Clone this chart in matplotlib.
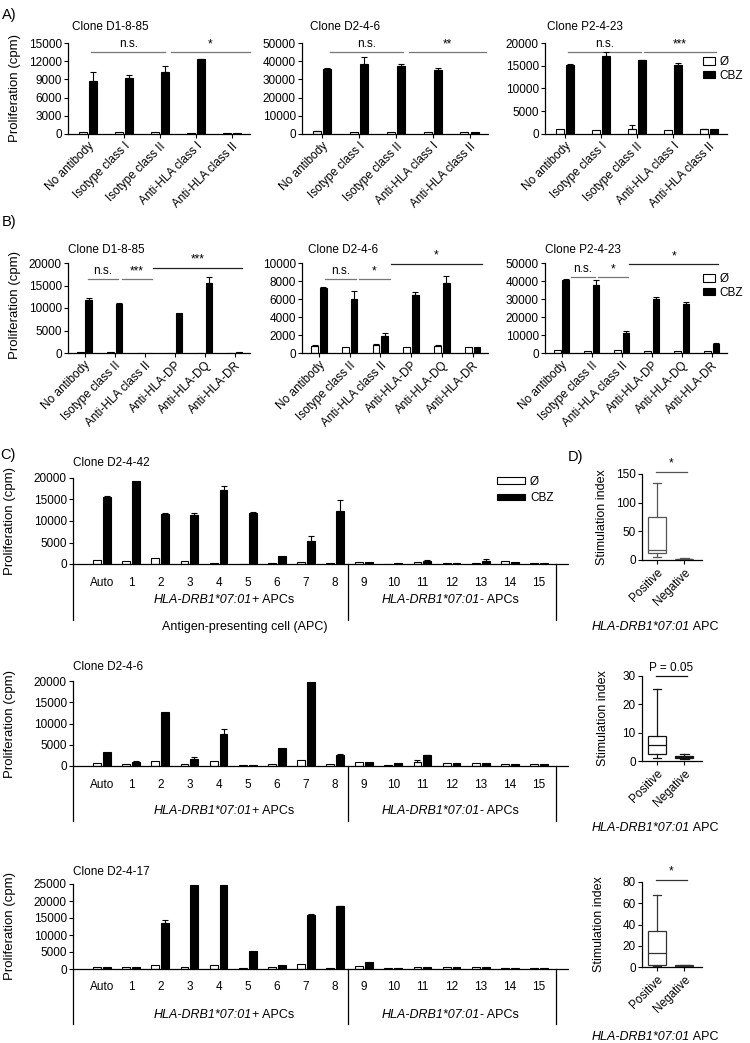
import matplotlib
matplotlib.use('Agg')
import matplotlib.pyplot as plt
import numpy as np
from matplotlib.patches import Patch

plt.rcParams['font.family'] = ['Liberation Sans', 'DejaVu Sans']
plt.rcParams['font.size'] = 8.5

# ---------- Panel A data ----------
a_labels = ['No antibody', 'Isotype class I', 'Isotype class II',
            'Anti-HLA class I', 'Anti-HLA class II']
a_clones = ['Clone D1-8-85', 'Clone D2-4-6', 'Clone P2-4-23']
a_ctrl = [[300, 300, 250, 200, 200],
          [1500, 1200, 1200, 1300, 900],
          [1000, 900, 1200, 800, 1000]]
a_ctrl_err = [[0, 0, 0, 0, 0],
              [150, 0, 0, 0, 0],
              [0, 0, 700, 0, 100]]
a_cbz = [[8800, 9200, 10200, 12300, 200],
         [35500, 38500, 37500, 35000, 1000],
         [15200, 17100, 16200, 15100, 1100]]
a_cbz_err = [[1400, 600, 1000, 100, 0],
             [500, 4000, 1000, 1300, 0],
             [200, 900, 100, 600, 0]]
a_ymax = [15000, 50000, 20000]
a_ystep = [3000, 10000, 5000]

# ---------- Panel B data ----------
b_labels = ['No antibody', 'Isotype class II', 'Anti-HLA class II',
            'Anti-HLA-DP', 'Anti-HLA-DQ', 'Anti-HLA-DR']
b_clones = ['Clone D1-8-85', 'Clone D2-4-6', 'Clone P2-4-23']
b_ctrl = [[200, 200, 100, 100, 100, 100],
          [800, 700, 900, 700, 800, 700],
          [1500, 1200, 1500, 1200, 1200, 1200]]
b_ctrl_err = [[0, 0, 0, 0, 0, 0],
              [100, 0, 100, 0, 100, 0],
              [0, 0, 0, 0, 0, 0]]
b_cbz = [[11800, 11000, 100, 9000, 15600, 200],
         [7200, 6000, 1900, 6500, 7800, 700],
         [40500, 38000, 11000, 30000, 27500, 5000]]
b_cbz_err = [[400, 100, 0, 0, 1200, 0],
             [100, 900, 300, 300, 800, 0],
             [400, 2500, 1200, 1200, 700, 800]]
b_ymax = [20000, 10000, 50000]
b_ystep = [5000, 2000, 10000]

# ---------- Panel C data ----------
c_groups = ['Auto', '1', '2', '3', '4', '5', '6', '7', '8',
            '9', '10', '11', '12', '13', '14', '15']
c_clones = ['Clone D2-4-42', 'Clone D2-4-6', 'Clone D2-4-17']
c_ctrl = [[900, 800, 1400, 700, 300, 100, 300, 400, 200, 400, 100, 500, 300, 300, 600, 200],
          [700, 500, 1100, 500, 1100, 200, 500, 1500, 400, 900, 300, 1000, 800, 600, 500, 500],
          [500, 600, 1100, 500, 1200, 200, 500, 1500, 400, 900, 300, 500, 500, 500, 400, 300]]
c_ctrl_err = [[0] * 16,
              [0, 0, 0, 0, 0, 0, 0, 0, 0, 0, 0, 300, 0, 0, 0, 0],
              [0] * 16]
c_cbz = [[15600, 19300, 11700, 11400, 17300, 11800, 1900, 5300, 12300, 500, 200, 600, 300, 700, 400, 300],
         [3400, 900, 12800, 1600, 7500, 300, 4300, 19800, 2500, 900, 700, 2500, 700, 600, 500, 400],
         [500, 700, 13500, 24800, 24800, 5300, 1200, 15800, 18400, 2000, 200, 500, 500, 500, 400, 300]]
c_cbz_err = [[200, 0, 200, 500, 800, 400, 0, 1200, 2500, 0, 0, 400, 0, 500, 0, 0],
             [0, 300, 0, 500, 1100, 0, 0, 0, 300, 0, 0, 200, 0, 0, 0, 0],
             [0, 0, 800, 0, 0, 0, 0, 300, 200, 0, 0, 0, 0, 0, 0, 0]]
c_ymax = [20000, 20000, 25000]
c_ystep = [5000, 5000, 5000]

# ---------- Panel D data (box stats: low whisker, Q1, median, Q3, high whisker) ----------
d_groups = ['Positive', 'Negative']
d_pos = [[5, 12, 17, 75, 135],
         [1, 2.5, 5.5, 9, 25.5],
         [1, 2, 13, 34, 68]]
d_neg = [[1, 1.5, 2, 2.5, 3],
         [0.8, 1, 1.3, 1.8, 2.3],
         [0.5, 0.8, 1, 1.5, 2]]
d_ymax = [150, 30, 80]
d_ystep = [50, 10, 20]
d_sig = ['*', 'P = 0.05', '*']

W, H = 750, 1043
fig = plt.figure(figsize=(7.5, 10.43), dpi=100)


def rect(x0, y0, x1, y1):
    return [x0 / W, 1 - y1 / H, (x1 - x0) / W, (y1 - y0) / H]


def ftext(x, y, s, **kw):
    return fig.text(x / W, 1 - y / H, s, **kw)


def style(ax):
    for s in ('top', 'right'):
        ax.spines[s].set_visible(False)
    for s in ('left', 'bottom'):
        ax.spines[s].set_linewidth(0.9)
    ax.tick_params(direction='out', length=3, width=0.8, labelsize=8.5, pad=1.5)


def draw_bars(ax, x, ctrl, ctrl_err, cbz, cbz_err, off, width):
    ax.bar(x - off, ctrl, width, facecolor='white', edgecolor='black', linewidth=0.8, zorder=2)
    ax.bar(x + off, cbz, width, facecolor='black', edgecolor='black', linewidth=0.8, zorder=2)
    for xs, ys, es in ((x - off, ctrl, ctrl_err), (x + off, cbz, cbz_err)):
        ys = np.asarray(ys, float)
        es = np.asarray(es, float)
        m = es > 0
        if m.any():
            ax.errorbar(xs[m], ys[m], yerr=[np.zeros(m.sum()), es[m]], fmt='none',
                        ecolor='black', elinewidth=0.8, capsize=2, capthick=0.8, zorder=3)


def sig(ax, x0, x1, y, label, color='#777777'):
    ax.plot([x0, x1], [y, y], color=color, lw=0.9, clip_on=False)
    ax.annotate(label, ((x0 + x1) / 2, y), xytext=(0, 1.5), textcoords='offset points',
                ha='center', va='bottom', fontsize=8.5, annotation_clip=False)


def legend(x, y, hl, hh, spacing):
    h = [Patch(facecolor='white', edgecolor='black', lw=0.8, label='Ø'),
         Patch(facecolor='black', edgecolor='black', lw=0.8, label='CBZ')]
    fig.legend(handles=h, loc='upper left', bbox_to_anchor=(x / W, 1 - y / H), frameon=False,
               handlelength=hl, handleheight=hh, handletextpad=0.4, labelspacing=spacing,
               borderaxespad=0, borderpad=0, fontsize=8.5)


def italic_label(x, y, ital, rest, fs=9):
    t1 = ftext(x, y, ital, style='italic', va='center', ha='left', fontsize=fs)
    fig.axes[0].annotate(rest, xy=(1, 0.5), xycoords=t1, va='center', ha='left',
                         fontsize=fs, annotation_clip=False)


# ---------- Panel A ----------
a_rects = [(68, 43, 250, 134), (302, 43, 488, 134), (545, 43, 727, 134)]
a_title_x = [72, 310, 547]
a_sig = [[(0.1, 2.15, 13500, 'n.s.'), (2.3, 4.5, 13500, '*')],
         [(0.2, 2.2, 45000, 'n.s.'), (2.35, 4.45, 45000, '**')],
         [(0.1, 2.12, 18000, 'n.s.'), (2.2, 4.2, 18000, '***')]]
for i in range(3):
    ax = fig.add_axes(rect(*a_rects[i]))
    style(ax)
    x = np.arange(len(a_labels))
    draw_bars(ax, x, a_ctrl[i], a_ctrl_err[i], a_cbz[i], a_cbz_err[i], 0.14, 0.22)
    ax.set_xlim(-0.55, 4.5)
    ax.set_ylim(0, a_ymax[i])
    ax.set_yticks(np.arange(0, a_ymax[i] + 1, a_ystep[i]))
    ax.set_xticks(x)
    ax.set_xticklabels(a_labels, rotation=45, ha='right', rotation_mode='anchor')
    for x0, x1, y, lab in a_sig[i]:
        sig(ax, x0, x1, y, lab)
    ftext(a_title_x[i], 27, a_clones[i], va='center', fontsize=8.5)
ftext(15, 88, 'Proliferation (cpm)', rotation=90, ha='center', va='center', fontsize=9.5)
ftext(2, 15, 'A)', va='center', fontsize=10.5)
legend(703, 56, 1.0, 0.6, 0.15)

# ---------- Panel B ----------
b_rects = [(68, 263, 250, 353), (302, 263, 488, 353), (545, 263, 727, 353)]
b_title_x = [68, 308, 545]
b_sig = [[(0.1, 1.1, 16400, 'n.s.', '#777777'), (1.23, 2.23, 16400, '***', '#777777'),
          (2.27, 5.23, 18900, '***', '#222222')],
         [(0.2, 1.2, 8200, 'n.s.', '#777777'), (1.3, 2.3, 8200, '*', '#777777'),
          (2.35, 5.3, 9900, '*', '#222222')],
         [(0.3, 1.1, 42200, 'n.s.', '#777777'), (1.2, 2.2, 42200, '*', '#777777'),
          (2.25, 5.2, 49400, '*', '#222222')]]
for i in range(3):
    ax = fig.add_axes(rect(*b_rects[i]))
    style(ax)
    x = np.arange(len(b_labels))
    draw_bars(ax, x, b_ctrl[i], b_ctrl_err[i], b_cbz[i], b_cbz_err[i], 0.14, 0.22)
    ax.set_xlim(-0.55, 5.5)
    ax.set_ylim(0, b_ymax[i])
    ax.set_yticks(np.arange(0, b_ymax[i] + 1, b_ystep[i]))
    ax.set_xticks(x)
    ax.set_xticklabels(b_labels, rotation=45, ha='right', rotation_mode='anchor')
    for x0, x1, y, lab, col in b_sig[i]:
        sig(ax, x0, x1, y, lab, col)
    ftext(b_title_x[i], 250, b_clones[i], va='center', fontsize=8.5)
ftext(15, 305, 'Proliferation (cpm)', rotation=90, ha='center', va='center', fontsize=9.5)
ftext(2, 222, 'B)', va='center', fontsize=10.5)
legend(703, 273, 1.0, 0.6, 0.15)

# ---------- Panel C ----------
c_rects = [(73, 478, 568, 564), (73, 681, 568, 766), (73, 884, 568, 969)]
c_title_y = [463, 667, 872]
c_group_y = [600, 811, 1015]
for i in range(3):
    ax = fig.add_axes(rect(*c_rects[i]))
    style(ax)
    x = np.arange(1, len(c_groups) + 1)
    draw_bars(ax, x, c_ctrl[i], c_ctrl_err[i], c_cbz[i], c_cbz_err[i], 0.17, 0.27)
    ax.set_xlim(0, 17)
    ax.set_ylim(0, c_ymax[i])
    ax.set_yticks(np.arange(0, c_ymax[i] + 1, c_ystep[i]))
    ax.set_xticks(x)
    ax.set_xticklabels(c_groups)
    ax.tick_params(axis='x', length=0, pad=9)
    tr = ax.get_xaxis_transform()
    for xb in (0, 9.45, 16.6):
        ax.plot([xb, xb], [0, -0.65], transform=tr, color='black', lw=0.9, clip_on=False)
    ftext(73, c_title_y[i], c_clones[i], va='center', fontsize=8.5)
    ftext(10, (c_rects[i][1] + c_rects[i][3]) / 2, 'Proliferation (cpm)', rotation=90,
          ha='center', va='center', fontsize=9.5)
    italic_label(154, c_group_y[i], 'HLA-DRB1*07:01', '+ APCs')
    italic_label(382, c_group_y[i], 'HLA-DRB1*07:01', '- APCs')
ftext(245, 627, 'Antigen-presenting cell (APC)', ha='center', va='center', fontsize=9)
ftext(0, 455, 'C)', va='center', fontsize=10.5)
legend(497, 476, 2.4, 0.5, 0.35)

# ---------- Panel D ----------
d_rects = [(642, 474, 702, 560), (642, 676, 702, 761), (642, 882, 702, 967)]
d_xlab_y = [627, 828, 1037]
d_ylab_x = [602, 603, 599]
d_col = ['#555555', '#111111', '#333333']
d_sig_y = [154, 30, 82]
for i in range(3):
    ax = fig.add_axes(rect(*d_rects[i]))
    style(ax)
    stats = []
    for lab, v in zip(d_groups, (d_pos[i], d_neg[i])):
        stats.append(dict(label=lab, whislo=v[0], q1=v[1], med=v[2], q3=v[3], whishi=v[4], fliers=[]))
    c = d_col[i]
    ax.bxp(stats, positions=[1, 2], widths=0.65, showfliers=False, patch_artist=True,
           boxprops=dict(facecolor='white', edgecolor=c, lw=0.9),
           medianprops=dict(color=c, lw=0.9), whiskerprops=dict(color=c, lw=0.9),
           capprops=dict(color=c, lw=0.9))
    ax.set_xlim(0.45, 2.65)
    ax.set_ylim(0, d_ymax[i])
    ax.set_yticks(np.arange(0, d_ymax[i] + 1, d_ystep[i]))
    ax.set_xticks([1, 2])
    ax.set_xticklabels(d_groups, rotation=45, ha='right', rotation_mode='anchor')
    sig(ax, 0.95, 2.1, d_sig_y[i], d_sig[i], c)
    ftext(d_ylab_x[i], (d_rects[i][1] + d_rects[i][3]) / 2, 'Stimulation index', rotation=90,
          ha='center', va='center', fontsize=9)
    italic_label(592, d_xlab_y[i], 'HLA-DRB1*07:01', ' APC')
ftext(568, 457, 'D)', va='center', fontsize=10.5)

fig.savefig('out.png', dpi=100)
